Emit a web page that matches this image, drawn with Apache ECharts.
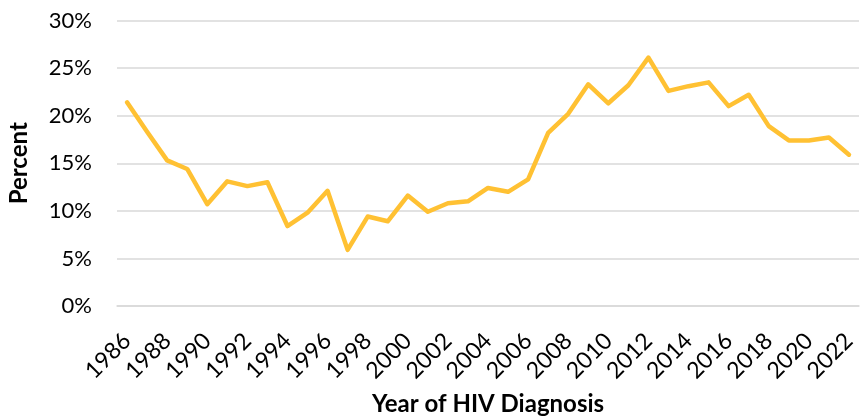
<!DOCTYPE html>
<html>
<head>
<meta charset="utf-8">
<script src="https://cdn.jsdelivr.net/npm/echarts@6/dist/echarts.min.js"></script>
<style>
  html, body { margin: 0; padding: 0; background: #fff; }
  #chart { width: 866px; height: 416px; }
</style>
</head>
<body>
<div id="chart"></div>
<script>
const years = [];
for (let y = 1986; y <= 2022; y++) years.push(String(y));

// percent of diagnoses
const percent = [
  21.4, 18.3, 15.3, 14.4, 10.7, 13.1, 12.6, 13.0, 8.4, 9.8,
  12.1, 5.9, 9.4, 8.9, 11.6, 9.9, 10.8, 11.0, 12.4, 12.0,
  13.3, 18.2, 20.2, 23.3, 21.3, 23.2, 26.1, 22.6, 23.1, 23.5,
  21.0, 22.2, 18.9, 17.4, 17.4, 17.7, 15.9
];

const font = 'Lato, Calibri, sans-serif';
const chart = echarts.init(document.getElementById('chart'));

chart.setOption({
  animation: false,
  grid: { left: 117, right: 7, top: 20.5, bottom: 110, outerBoundsMode: 'none' },
  xAxis: {
    type: 'category',
    data: years,
    name: 'Year of HIV Diagnosis',
    nameLocation: 'middle',
    nameGap: 86,
    nameMoveOverlap: false,
    nameTextStyle: { fontFamily: font, fontSize: 24, fontWeight: 'bold', color: '#000' },
    axisLine: { lineStyle: { color: '#d9d9d9', width: 1.5 } },
    axisTick: { interval: 1, length: 8, lineStyle: { color: '#d9d9d9', width: 1.5 } },
    axisLabel: {
      interval: 1,
      rotate: 45,
      margin: 31,
      fontFamily: font,
      fontSize: 23,
      color: '#000'
    }
  },
  yAxis: {
    type: 'value',
    min: 0,
    max: 30,
    interval: 5,
    name: 'Percent',
    nameLocation: 'middle',
    nameGap: 86,
    nameTextStyle: { fontFamily: font, fontSize: 24, fontWeight: 'bold', color: '#000' },
    axisLine: { show: false },
    axisTick: { show: false },
    splitLine: { lineStyle: { color: '#d9d9d9', width: 1.5 } },
    axisLabel: {
      formatter: '{value}%',
      margin: 25,
      fontFamily: font,
      fontSize: 22,
      color: '#000'
    }
  },
  series: [{
    type: 'line',
    data: percent,
    symbol: 'none',
    lineStyle: { color: '#ffc133', width: 4.5, cap: 'round', join: 'round' }
  }]
});
</script>
</body>
</html>
